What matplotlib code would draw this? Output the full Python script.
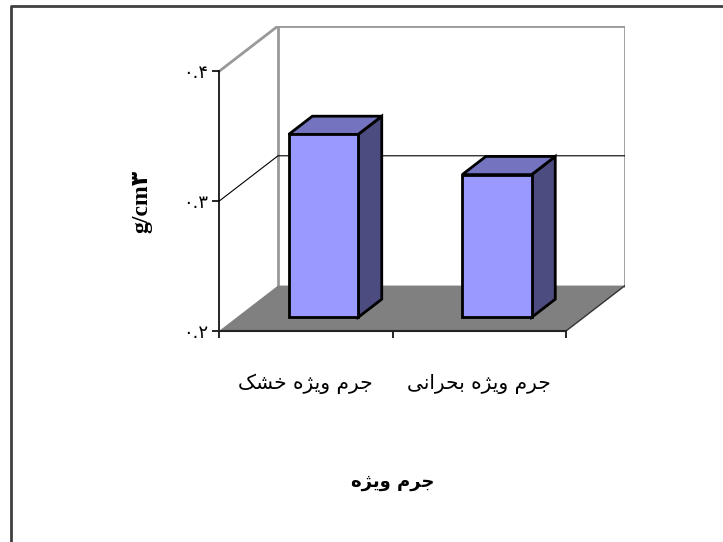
import matplotlib.pyplot as plt
from matplotlib.patches import Polygon
from matplotlib.lines import Line2D

categories = ['جرم ویژه خشک', 'جرم ویژه بحرانی']
values = [0.341, 0.310]
yticks = [0.2, 0.3, 0.4]
ytick_labels = ['۰.۲', '۰.۳', '۰.۴']
y_label = 'g/cm۳'
x_title = 'جرم ویژه'

# matplotlib does no arabic shaping, so pick presentation forms by hand
# (iso, fin, ini, med); two forms = letter joins only to the right
FORMS = {
    'ج': '\uFE9D\uFE9E\uFE9F\uFEA0', 'ح': '\uFEA1\uFEA2\uFEA3\uFEA4',
    'خ': '\uFEA5\uFEA6\uFEA7\uFEA8', 'ب': '\uFE8F\uFE90\uFE91\uFE92',
    'م': '\uFEE1\uFEE2\uFEE3\uFEE4', 'ن': '\uFEE5\uFEE6\uFEE7\uFEE8',
    'ه': '\uFEE9\uFEEA\uFEEB\uFEEC', 'ش': '\uFEB5\uFEB6\uFEB7\uFEB8',
    'ک': '\uFB8E\uFB8F\uFB90\uFB91', 'ی': '\uFBFC\uFBFD\uFBFE\uFBFF',
    'ر': '\uFEAD\uFEAE', 'و': '\uFEED\uFEEE', 'ژ': '\uFB8A\uFB8B',
    'ا': '\uFE8D\uFE8E',
}


def shape(s):
    out = []
    for i, c in enumerate(s):
        f = FORMS.get(c)
        if f is None:
            out.append(c)
            continue
        prev = s[i - 1] if i > 0 else ''
        nxt = s[i + 1] if i + 1 < len(s) else ''
        jp = prev in FORMS and len(FORMS[prev]) == 4
        jn = nxt in FORMS and len(f) == 4
        out.append(f[3] if jp and jn else f[1] if jp else f[2] if jn else f[0])
    return ''.join(out)[::-1]


# oblique depth of the 3d box, in data units
DX, DY = 0.34, 0.035
BW = 0.40
B0, B1 = 0.3, 0.7

fig = plt.figure(figsize=(7.23, 5.42), dpi=100)
ax = fig.add_axes([219 / 723, 211 / 542, 406 / 723, 305 / 542])
ax.set_xlim(0, 2 + DX)
ax.set_ylim(0.2, 0.4 + DY)

wall = '#999999'
ax.plot([DX, DX, 2 + DX, 2 + DX], [0.2 + DY, 0.4 + DY, 0.4 + DY, 0.2 + DY],
        color=wall, lw=2, zorder=1, solid_joinstyle='miter')
ax.plot([0, DX], [0.4, 0.4 + DY], color=wall, lw=2, zorder=1)
ax.plot([0, DX, 2 + DX], [0.3, 0.3 + DY, 0.3 + DY], color='black', lw=0.8, zorder=1)
ax.add_patch(Polygon([(0, 0.2), (2, 0.2), (2 + DX, 0.2 + DY), (DX, 0.2 + DY)],
                     closed=True, facecolor='#808080', edgecolor='none', zorder=2))
ax.plot([2, 2 + DX], [0.2, 0.2 + DY], color='#333333', lw=1, zorder=2)

for i, v in enumerate(values):
    c = i + 0.5
    x0 = c - BW / 2 + B0 * DX
    x1 = c + BW / 2 + B0 * DX
    y0 = 0.2 + B0 * DY
    y1 = v + B0 * DY
    ddx, ddy = (B1 - B0) * DX, (B1 - B0) * DY
    kw = dict(closed=True, edgecolor='black', lw=2, joinstyle='miter', zorder=3)
    ax.add_patch(Polygon([(x1, y0), (x1 + ddx, y0 + ddy), (x1 + ddx, y1 + ddy), (x1, y1)],
                         facecolor='#4C4C80', **kw))
    ax.add_patch(Polygon([(x0, y1), (x1, y1), (x1 + ddx, y1 + ddy), (x0 + ddx, y1 + ddy)],
                         facecolor='#7373C0', **kw))
    ax.add_patch(Polygon([(x0, y0), (x1, y0), (x1, y1), (x0, y1)],
                         facecolor='#9999FF', **kw))

for s in ['top', 'right']:
    ax.spines[s].set_visible(False)
ax.spines['left'].set_bounds(0.2, 0.4)
ax.spines['bottom'].set_bounds(0, 2)
ax.spines['left'].set_linewidth(1.2)
ax.spines['bottom'].set_linewidth(1.5)
ax.spines['bottom'].set_color('#222222')
ax.spines['left'].set_zorder(5)
ax.spines['bottom'].set_zorder(5)

ax.set_yticks(yticks, ytick_labels, family='DejaVu Sans', fontsize=13)
ax.set_xticks([0, 1, 2], ['', '', ''])
ax.set_xticks([0.5, 1.5], [shape(c) for c in categories], minor=True,
              family='DejaVu Sans', fontsize=14.5)
ax.tick_params(which='major', direction='out', length=5, width=1.2, pad=3)
ax.tick_params(axis='x', which='minor', length=0, pad=31)
ax.xaxis.get_major_ticks()[2].tick1line.set_color(wall)

ax.annotate(y_label, xy=(0, 0.3), xytext=(-77, 0), textcoords='offset pixels',
            rotation=90, ha='center', va='center', fontsize=17, fontweight='bold',
            family=['Liberation Serif', 'DejaVu Sans'])
ax.annotate(shape(x_title), xy=(1, 0.2), xytext=(0, -151), textcoords='offset pixels',
            ha='center', va='center', fontsize=13, fontweight='bold', family='DejaVu Sans')

fig.add_artist(Line2D([11 / 723, 11 / 723, 1], [0, 1 - 5.5 / 542, 1 - 5.5 / 542],
                      color='#404040', lw=2))

fig.savefig('out.png', dpi=100)
